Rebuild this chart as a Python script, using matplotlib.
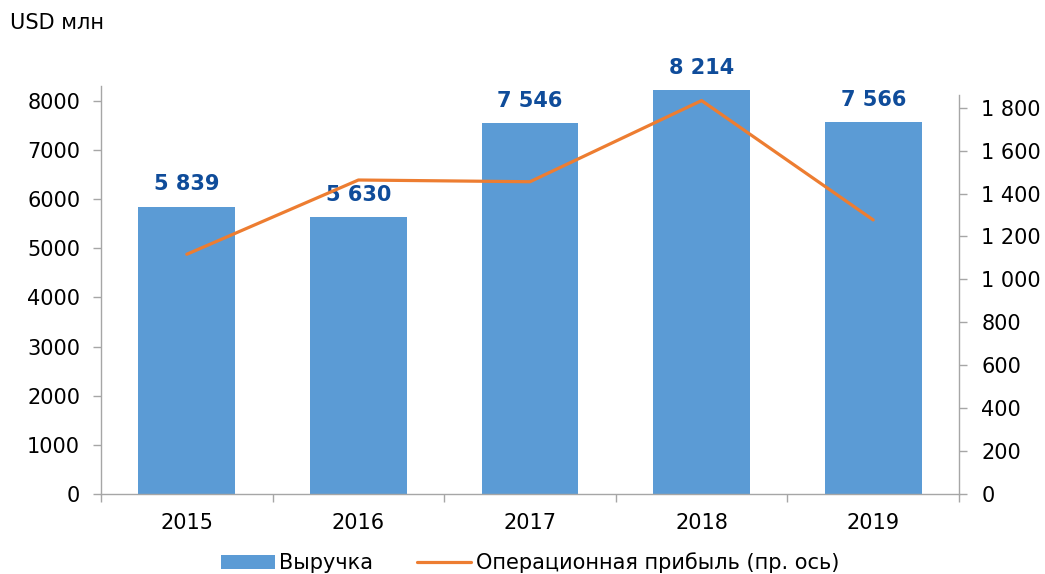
import matplotlib
matplotlib.use("Agg")
import matplotlib.pyplot as plt
from matplotlib.ticker import FuncFormatter, FixedLocator
import numpy as np

years = ["2015", "2016", "2017", "2018", "2019"]
revenue = [5839, 5630, 7546, 8214, 7566]
op_profit = [1117, 1463, 1455, 1833, 1277]
left_ticks = [0, 1000, 2000, 3000, 4000, 5000, 6000, 7000, 8000]
right_ticks = [0, 200, 400, 600, 800, 1000, 1200, 1400, 1600, 1800]

BAR = "#5B9BD5"
LINE = "#ED7D31"
LABEL = "#0F4C9A"
AXC = "#A6A6A6"
FS = 15

plt.rcParams['font.family'] = ['DejaVu Sans']

fig = plt.figure(figsize=(10.45, 5.74), dpi=100)
ax = fig.add_axes([101/1045, 1-494/574, (959-101)/1045, (494-86)/574])
ax2 = ax.twinx()

x = np.arange(len(years))
bars = ax.bar(x, revenue, width=0.565, color=BAR, label="Выручка", zorder=2)
ax.set_xlim(-0.5, len(years) - 0.5)
ax.set_ylim(0, 8305)
ax.set_yticks(left_ticks)
ax.set_xticks(x)
ax.set_xticklabels(years)
ax.xaxis.set_minor_locator(FixedLocator(np.arange(-0.5, len(years), 1.0)))
ax.tick_params(axis='x', which='major', length=0, pad=14, labelsize=FS)
ax.tick_params(axis='x', which='minor', length=6, color=AXC, width=1)
ax.tick_params(axis='y', length=6, color=AXC, width=1, pad=9, labelsize=FS)

for i, v in enumerate(revenue):
    ax.annotate(f"{v:,}".replace(",", " "), (x[i], v), xytext=(0, 12),
                textcoords="offset points", ha="center", va="baseline",
                fontsize=FS, fontweight="bold", color=LABEL)

ln, = ax2.plot(x, op_profit, color=LINE, lw=2.3, label="Операционная прибыль (пр. ось)",
               solid_capstyle='round', zorder=3)
ax2.set_ylim(0, 1901)
ax2.set_yticks(right_ticks)
ax2.yaxis.set_major_formatter(FuncFormatter(lambda v, p: f"{int(v):,}".replace(",", " ")))
ax2.tick_params(axis='y', length=6, color=AXC, width=1, pad=10, labelsize=FS)

for a in (ax, ax2):
    for s in ("top",):
        a.spines[s].set_visible(False)
    for s in ("left", "right", "bottom"):
        a.spines[s].set_color(AXC)
        a.spines[s].set_linewidth(1)
ax.spines["right"].set_visible(False)
ax2.spines["left"].set_visible(False)
ax2.spines["bottom"].set_visible(False)
ax2.spines["right"].set_bounds(0, 1859)

fig.text(10/1045, 1-23/574, "USD млн", fontsize=FS, va="center", ha="left")

fig.legend([bars, ln], ["Выручка", "Операционная прибыль (пр. ось)"],
           loc="center", bbox_to_anchor=(530/1045, 1-563/574), ncol=2, frameon=False,
           fontsize=FS, handlelength=2.6, handletextpad=0.2, columnspacing=2.1,
           borderaxespad=0, borderpad=0)

fig.savefig("out.png", dpi=100)
